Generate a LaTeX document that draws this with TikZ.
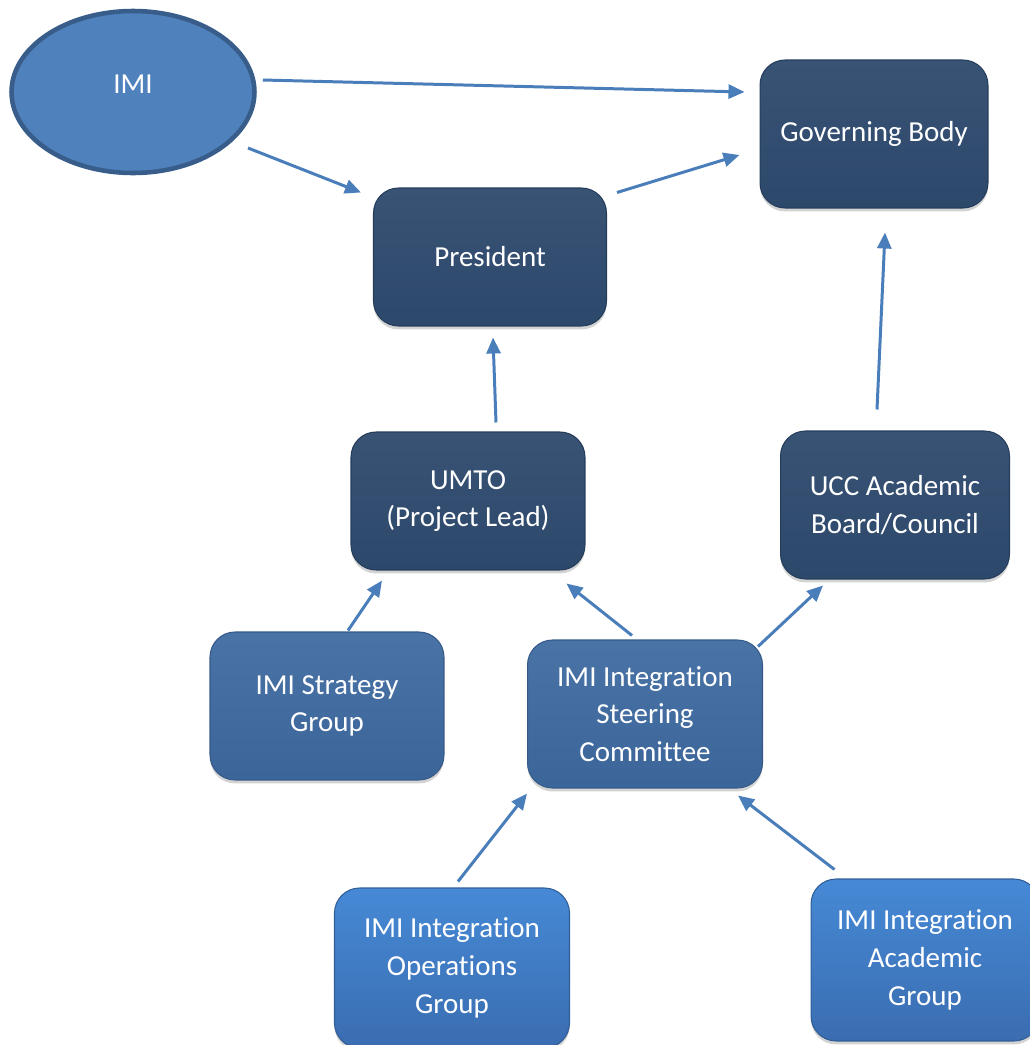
\documentclass[tikz,border=0pt]{standalone}
\usepackage{fontspec}
\setmainfont{Carlito}[Ligatures=CommonOff]
\usepackage{tikz}
\usetikzlibrary{arrows.meta,positioning}
\usetikzlibrary{calc}
\usetikzlibrary{shapes.geometric,shadows}
\definecolor{navy}{HTML}{2C486B}
\definecolor{midblue}{HTML}{3E6AA0}
\definecolor{lighttop}{HTML}{4689D6}
\definecolor{lightbot}{HTML}{3A6DB0}
\definecolor{ovalblue}{HTML}{4F81BD}
\definecolor{ovalline}{HTML}{385D8A}
\definecolor{arrowblue}{HTML}{4A7EBB}

\begin{document}
\begin{tikzpicture}[x=0.02cm, y=-0.02cm,
                every node/.append style={align=center, text=white,
                    font=\fontsize{16.5pt}{21.5pt}\selectfont},
                box/.style={rounded corners=0.5cm, line width=0.6pt,
                    drop shadow={shadow xshift=0cm, shadow yshift=-0.07cm, opacity=0.35}},
                darkbox/.style={box, draw=navy!85!black, top color=navy!94!white, bottom color=navy},
                midbox/.style={box, draw=midblue!85!black, top color=midblue!94!white, bottom color=midblue!96!black},
                lightbox/.style={box, draw=lightbot!85!black, top color=lighttop, bottom color=lightbot},
                link/.style={-{Triangle[length=0.32cm, width=0.28cm]}, color=arrowblue,
                    line width=1.7pt}]

\useasboundingbox (0,0) rectangle (1029,1045);

\node[ellipse, fill=ovalblue, draw=ovalline, line width=2.6pt,
      minimum width=4.86cm, minimum height=3.24cm] (imi) at (133,92) {\raisebox{0.3cm}{IMI}};
\node[darkbox, minimum width=4.56cm, minimum height=2.96cm] (gov) at (874,134) {Governing Body};
\node[darkbox, minimum width=4.66cm, minimum height=2.76cm] (pres) at (490,257) {President};
\node[darkbox, minimum width=4.68cm, minimum height=2.76cm] (umto) at (468,501) {UMTO\\(Project Lead)};
\node[darkbox, minimum width=4.58cm, minimum height=2.96cm] (ucc) at (895,505) {UCC Academic\\Board/Council};
\node[midbox, minimum width=4.68cm, minimum height=2.96cm] (strat) at (327,706) {IMI Strategy\\Group};
\node[midbox, minimum width=4.7cm, minimum height=2.96cm] (steer) at (645,714) {IMI Integration\\Steering\\Committee};
\node[lightbox, minimum width=4.7cm, minimum height=3.2cm] (ops) at (452,968) {IMI Integration\\Operations\\Group};
\node[lightbox, minimum width=4.56cm, minimum height=3.24cm] (acad) at (925,960) {IMI Integration\\Academic\\Group};

\path[link] ($(imi.east)+(6,-12)$) edge ($(gov.west)+(-15,-42)$)
    ($(imi.center)+(115,56)$) edge ($(pres.north west)+(-12,5)$)
    ($(pres.north east)+(10,5)$) edge ($(gov.west)+(-20,21)$)
    ($(ucc.north)+(-18,-21)$) edge ($(gov.south)+(11,24)$)
    ($(umto.north)+(28,-9)$) edge ($(pres.south)+(3,11)$)
    ($(strat.north)+(21,-1)$) edge ($(umto.south)+(-86,10)$)
    ($(steer.north)+(-13,-4)$) edge ($(umto.south east)+(-19,13)$)
    ($(steer.north east)+(-5,7)$) edge ($(ucc.south west)+(43,6)$)
    ($(ops.north)+(6,-6)$) edge ($(steer.south west)+(0,5)$)
    ($(acad.north west)+(24,-9)$) edge ($(steer.south east)+(-25,7)$);

\end{tikzpicture}
\end{document}
